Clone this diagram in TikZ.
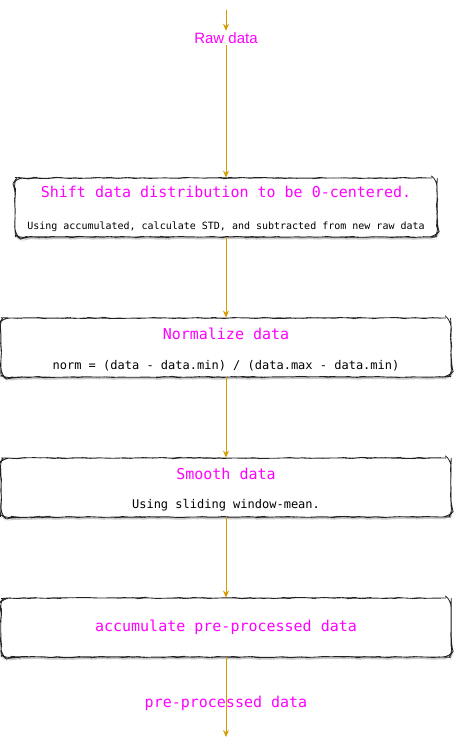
\documentclass[tikz,border=0pt]{standalone}
\usepackage{fontspec}
\setmainfont{Liberation Sans}
\setmonofont{DejaVu Sans Mono}
\usepackage{xcolor}
\usetikzlibrary{positioning, arrows.meta, calc, shadows, decorations.pathmorphing}
\definecolor{flowline}{HTML}{D79B00}
\definecolor{magtext}{HTML}{FF00FF}
\definecolor{boxline}{HTML}{222222}
\tikzset{
  sketch box/.style={
    draw=boxline,
    line width=0.8pt,
    fill=white,
    rounded corners=7pt,
    decoration={random steps, segment length=5pt, amplitude=0.45pt},
    decorate,
    drop shadow={shadow xshift=0.6pt, shadow yshift=-2.2pt, fill=black!35, opacity=0.6},
    minimum height=59pt,
    inner sep=0pt
  },
  title text/.style={
    font=\fontsize{15}{18}\selectfont\ttfamily,
    text=magtext,
    inner sep=0pt
  },
  small text/.style={
    font=\fontsize{12}{14}\selectfont\ttfamily,
    inner sep=0pt
  },
  tiny text/.style={
    font=\fontsize{10}{12}\selectfont\ttfamily,
    inner sep=0pt
  },
  flow/.style={
    -{Stealth[length=7pt, width=6pt]},
    line width=1pt,
    color=flowline
  }
}
\begin{document}
\begin{tikzpicture}[x=1pt, y=1pt]
  \useasboundingbox[fill=white] (0,0) rectangle (455,-746);

  % Input
  \coordinate (in) at (226,-10);
  \node[font=\fontsize{15}{18}\selectfont, text=magtext, fill=white, inner sep=1.5pt] (raw) at (226,-38) {Raw data};

  % Boxes
  \node[sketch box, minimum width=422pt] (b1) at (226,-207.5) {};
  \node[sketch box, minimum width=450pt] (b2) at (226,-347.5) {};
  \node[sketch box, minimum width=450pt] (b3) at (226,-487.5) {};
  \node[sketch box, minimum width=450pt] (b4) at (226,-627.5) {};

  % Box texts
  \node[title text] (t1) at (226,-192) {Shift data distribution to be 0-centered.};
  \node[tiny text]  (s1) at (226,-227) {Using accumulated, calculate STD, and subtracted from new raw data};
  \node[title text] (t2) at (226,-334) {Normalize data};
  \node[small text] (s2) at (226,-366) {norm = (data - data.min) / (data.max - data.min)};
  \node[title text] (t3) at (226,-474) {Smooth data};
  \node[small text] (s3) at (226,-505) {Using sliding window-mean.};
  \node[title text] (t4) at (226,-627) {accumulate pre-processed data};

  % Output
  \coordinate (out) at (226,-737);

  % Connectors
  \draw[flow] (in) -- (raw);
  \draw[flow] (raw) -- (b1);
  \draw[flow] (b1) -- (b2);
  \draw[flow] (b2) -- (b3);
  \draw[flow] (b3) -- (b4);
  \draw[flow] (b4) -- (out);
  \node[title text] (pre) at (226,-703) {pre-processed data};
\end{tikzpicture}
\end{document}
